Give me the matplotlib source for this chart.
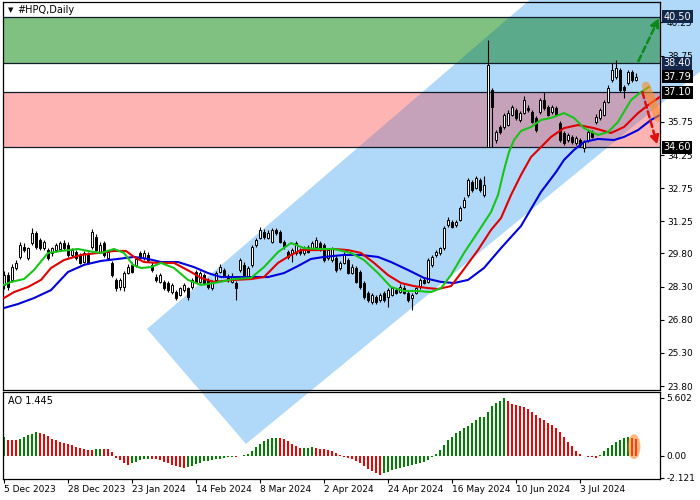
import numpy as np
import matplotlib.pyplot as plt
from matplotlib.patches import Polygon, Rectangle, Ellipse

plt.rcParams['font.family'] = 'DejaVu Sans'

# ---- daily candles (#HPQ), bar index 0 = 5 Dec 2023 ----
opens = [28.37, 28.82, 28.60, 29.14, 29.64, 30.09, 29.59, 30.27, 30.72, 30.41,
         30.04, 29.95, 29.82, 29.95, 30.00, 30.27, 30.18, 29.73, 29.86, 29.73,
         29.41, 29.73, 30.09, 30.54, 29.86, 30.27, 29.59, 29.37, 28.60, 28.28,
         28.28, 28.91, 29.28, 29.28, 29.82, 29.59, 29.73, 29.28, 28.73, 28.51,
         28.51, 28.46, 28.05, 28.05, 27.92, 28.14, 28.23, 28.28, 28.96, 28.51,
         28.82, 28.60, 28.23, 28.60, 28.96, 29.05, 28.78, 28.51, 28.46, 29.05,
         29.28, 28.73, 29.28, 30.18, 30.50, 30.77, 30.50, 30.32, 30.86, 30.77,
         30.32, 29.86, 29.82, 29.82, 29.95, 29.82, 30.09, 30.04, 30.09, 30.27,
         30.18, 29.59, 29.50, 29.59, 29.14, 29.37, 29.50, 28.91, 29.14, 28.96,
         28.46, 28.01, 27.60, 27.82, 27.69, 28.01, 27.82, 27.92, 28.14, 28.05,
         28.23, 28.01, 27.78, 28.01, 28.28, 28.60, 28.51, 29.28, 29.73, 29.82,
         30.04, 31.09, 31.22, 31.09, 31.31, 31.90, 32.44, 33.03, 32.76, 33.12,
         32.44, 34.61, 37.19, 34.93, 35.52, 35.52, 35.61, 36.06, 36.29, 35.84,
         36.15, 36.38, 36.20, 35.93, 36.20, 36.74, 36.42, 36.20, 36.38, 35.70,
         35.25, 34.93, 35.07, 34.80, 34.93, 34.57, 34.93, 35.29, 35.75, 35.93,
         36.06, 36.65, 37.65, 37.78, 38.10, 37.33, 37.51, 38.01, 37.65]
highs = [29.00, 28.95, 29.30, 29.50, 30.33, 30.25, 30.10, 30.95, 30.80, 30.50,
         30.40, 30.05, 30.10, 30.25, 30.35, 30.40, 30.30, 30.05, 29.95, 29.80,
         29.90, 29.85, 30.90, 30.70, 30.30, 30.35, 29.95, 29.45, 28.70, 28.70,
         29.00, 29.30, 29.40, 29.65, 29.90, 29.95, 29.85, 29.40, 28.85, 28.90,
         28.60, 28.55, 28.45, 28.15, 28.30, 28.45, 28.30, 28.70, 29.05, 29.00,
         28.90, 28.70, 28.60, 29.00, 29.30, 29.15, 28.85, 28.90, 28.55, 29.60,
         29.40, 29.25, 30.20, 30.50, 31.00, 30.90, 30.85, 30.95, 30.95, 30.85,
         30.40, 29.95, 30.05, 30.35, 30.05, 30.15, 30.20, 30.35, 30.55, 30.35,
         30.25, 30.05, 30.10, 29.70, 29.45, 29.85, 29.60, 29.30, 29.25, 29.05,
         28.55, 28.10, 28.00, 27.90, 28.00, 28.10, 28.25, 28.30, 28.25, 28.40,
         28.35, 28.10, 28.00, 28.30, 28.70, 28.70, 29.60, 29.75, 29.95, 30.10,
         31.05, 31.45, 31.30, 31.30, 31.95, 32.35, 33.20, 33.10, 33.30, 33.20,
         33.30, 39.46, 37.30, 35.40, 35.60, 36.15, 36.30, 36.50, 36.38, 36.25,
         36.90, 36.50, 36.30, 36.00, 36.85, 37.10, 36.50, 36.50, 36.45, 35.80,
         35.35, 35.25, 35.15, 35.10, 35.00, 34.95, 35.40, 35.38, 36.10, 36.38,
         36.75, 37.40, 38.42, 38.55, 38.20, 37.40, 38.10, 38.10, 37.95]
lows = [28.20, 28.15, 28.50, 29.05, 29.55, 29.85, 29.50, 30.20, 30.00, 29.95,
        29.95, 29.50, 29.70, 29.85, 29.90, 29.95, 29.65, 29.65, 29.50, 29.30,
        29.35, 29.30, 30.00, 29.90, 29.80, 29.65, 29.50, 28.75, 28.10, 28.15,
        28.10, 28.85, 28.90, 29.20, 29.50, 29.50, 29.40, 28.95, 28.50, 28.45,
        28.15, 28.05, 27.95, 27.70, 27.85, 28.05, 27.69, 28.20, 28.45, 28.45,
        28.40, 28.20, 28.15, 28.50, 28.90, 28.75, 28.50, 28.45, 27.69, 28.95,
        28.75, 28.65, 29.20, 30.10, 30.45, 30.45, 30.45, 30.25, 30.65, 30.25,
        30.00, 29.55, 29.40, 29.75, 29.75, 29.75, 29.80, 29.95, 30.00, 29.90,
        29.40, 29.50, 29.40, 28.95, 29.05, 29.30, 28.85, 28.85, 28.45, 28.20,
        27.75, 27.60, 27.50, 27.50, 27.60, 27.60, 27.37, 27.85, 27.95, 28.00,
        27.95, 27.60, 27.24, 27.95, 28.20, 28.40, 28.45, 29.20, 29.65, 29.75,
        29.95, 31.00, 30.95, 31.00, 31.25, 31.85, 32.35, 32.60, 32.70, 32.60,
        32.35, 34.61, 34.61, 34.80, 35.20, 35.45, 35.55, 36.00, 35.85, 35.75,
        36.10, 36.20, 35.70, 35.30, 36.10, 36.30, 36.00, 36.10, 36.00, 34.85,
        34.70, 34.85, 34.75, 34.70, 34.60, 34.39, 34.85, 35.00, 35.65, 35.85,
        36.00, 36.60, 37.55, 37.70, 37.10, 36.83, 37.40, 37.55, 37.60]
closes = [28.82, 28.28, 29.18, 29.37, 30.18, 29.95, 30.04, 30.72, 30.09, 30.04,
          30.32, 29.59, 30.04, 30.18, 30.27, 30.04, 29.73, 29.95, 29.59, 29.37,
          29.82, 29.37, 30.77, 29.95, 30.18, 29.73, 29.86, 28.82, 28.23, 28.60,
          28.91, 29.18, 28.96, 29.55, 29.59, 29.82, 29.50, 29.05, 28.60, 28.82,
          28.23, 28.14, 28.37, 27.78, 28.23, 28.37, 27.82, 28.60, 28.51, 28.91,
          28.46, 28.28, 28.51, 28.91, 29.18, 28.82, 28.60, 28.78, 28.23, 29.50,
          28.82, 29.14, 30.09, 30.41, 30.86, 30.54, 30.72, 30.86, 30.72, 30.32,
          30.09, 29.64, 29.95, 30.27, 29.82, 30.04, 29.86, 30.27, 30.41, 29.95,
          29.50, 29.95, 30.04, 29.05, 29.37, 29.73, 28.91, 29.18, 28.51, 28.28,
          27.82, 27.69, 27.92, 27.60, 27.92, 27.69, 28.14, 28.23, 28.01, 28.28,
          28.01, 27.69, 27.92, 28.23, 28.60, 28.46, 29.50, 29.64, 29.86, 30.04,
          30.95, 31.31, 31.00, 31.22, 31.85, 32.22, 33.12, 32.67, 33.21, 32.67,
          32.90, 38.33, 36.42, 35.29, 35.29, 36.06, 36.15, 36.42, 35.93, 36.15,
          36.74, 36.29, 35.75, 35.38, 36.74, 36.38, 36.06, 36.42, 36.06, 34.93,
          34.80, 35.16, 34.84, 35.02, 34.71, 34.84, 35.29, 35.07, 35.97, 36.29,
          36.65, 37.28, 38.10, 38.19, 37.19, 37.19, 38.01, 37.65, 37.79]

# ---- Alligator lines (bar index, price) ----
lips_x = [0, 1.75, 5, 7.5, 11, 14.25, 18.5, 21, 24.25, 27.5, 30, 32.25, 34.25, 36.75,
          39.25, 42.5, 46, 49.25, 52.5, 57.5, 61.75, 65, 68.5, 71.75, 75, 78.5, 82.5,
          86.75, 90, 93.5, 96.75, 100, 103.5, 106.75, 109.25, 111.75, 115, 118.5,
          121.75, 123.5, 125, 126.25, 127.5, 129.25, 131.75, 134.25, 136.75, 140,
          142.5, 145, 148.5, 151, 153.5, 156.75, 159.25, 161.25]
lips_y = [28.37, 28.51, 28.64, 29.05, 29.82, 29.91, 30.00, 29.91, 29.82, 30.00, 29.82,
          29.28, 29.14, 29.18, 29.37, 29.14, 28.60, 28.37, 28.46, 28.64, 28.69, 29.18,
          29.86, 30.27, 30.04, 30.00, 30.00, 29.82, 29.50, 28.91, 28.28, 28.10, 28.10,
          28.05, 28.23, 28.82, 29.82, 30.77, 31.67, 32.44, 33.57, 34.39, 34.93, 35.34,
          35.52, 35.84, 35.93, 36.15, 35.93, 35.47, 35.16, 35.29, 35.75, 36.74, 37.10,
          37.33]
teeth_x = [0, 2.5, 6, 9.25, 11.75, 15, 19.25, 23.5, 27.5, 30.5, 32.5, 35, 38.5, 42.5,
           46.75, 49.25, 52.5, 57.5, 61.75, 65, 68.5, 71.75, 74.25, 78.5, 82.5, 86,
           89.25, 92.5, 96, 99.25, 102.5, 106, 108.5, 111.75, 114.25, 118.5, 121.75,
           124.25, 126.75, 129.25, 131.75, 134.25, 136.75, 140, 143.5, 147.5, 151.75,
           155, 158.5, 161.75, 164]
teeth_y = [27.78, 28.05, 28.28, 28.60, 29.14, 29.50, 29.73, 29.82, 29.91, 29.91, 29.64,
           29.41, 29.37, 29.37, 28.96, 28.69, 28.51, 28.60, 28.64, 28.73, 29.37, 29.73,
           29.95, 29.95, 30.00, 29.95, 29.82, 29.37, 28.82, 28.46, 28.32, 28.23, 28.19,
           28.32, 28.91, 29.95, 30.86, 31.40, 32.44, 33.35, 34.16, 34.61, 35.07, 35.47,
           35.61, 35.47, 35.25, 35.52, 36.15, 36.61, 36.88]
jaw_x = [0, 3.5, 7.5, 11.75, 16, 20, 24.25, 28.5, 32.5, 36, 39.25, 43.5, 47.5, 51,
         54.25, 59.25, 66, 70, 73.5, 76.75, 80, 85, 89.25, 93.5, 96.75, 101, 105,
         109.25, 112.5, 116, 120, 124.25, 129.25, 134.25, 138, 140, 142.5, 145, 148.5,
         152.5, 155, 158.5, 161.75, 164]
jaw_y = [27.33, 27.51, 27.78, 28.14, 28.96, 29.28, 29.46, 29.55, 29.64, 29.55, 29.41,
         29.41, 29.18, 28.91, 28.73, 28.73, 28.73, 28.91, 29.23, 29.55, 29.64, 29.73,
         29.73, 29.64, 29.41, 29.05, 28.69, 28.51, 28.46, 28.60, 29.14, 30.04, 31.04,
         32.58, 33.48, 34.03, 34.48, 34.84, 34.98, 34.93, 35.07, 35.38, 35.84, 36.06]

# ---- Awesome Oscillator ----
ao = [1.80, 1.55, 1.53, 1.50, 1.65, 1.80, 2.00, 2.15, 2.29, 2.20,
      2.10, 1.90, 1.65, 1.50, 1.35, 1.25, 1.18, 1.05, 0.90, 0.78,
      0.68, 0.62, 0.60, 0.65, 0.70, 0.68, 0.66, 0.35, -0.20, -0.38,
      -0.63, -0.90, -0.70, -0.55, -0.38, -0.29, -0.25, -0.29, -0.32, -0.42,
      -0.55, -0.70, -0.84, -0.97, -1.10, -1.20, -1.10, -0.97, -0.77, -0.64,
      -0.52, -0.45, -0.39, -0.32, -0.26, -0.19, -0.13, -0.10, -0.11, -0.03,
      0.10, 0.19, 0.52, 0.90, 1.16, 1.40, 1.65, 1.75, 1.76, 1.74,
      1.60, 1.40, 1.20, 1.00, 0.80, 0.81, 0.82, 0.83, 0.80, 0.70,
      0.65, 0.58, 0.52, 0.26, 0.13, -0.06, -0.16, -0.32, -0.48, -0.70,
      -0.97, -1.22, -1.45, -1.60, -1.85, -1.67, -1.50, -1.40, -1.29, -1.20,
      -1.10, -0.97, -0.90, -0.80, -0.70, -0.58, -0.39, -0.13, 0.23, 0.58,
      1.06, 1.55, 1.87, 2.20, 2.45, 2.67, 2.90, 3.20, 3.48, 3.74,
      3.80, 4.28, 4.83, 5.09, 5.35, 5.602, 5.30, 5.00, 4.93, 4.86,
      4.77, 4.50, 4.25, 3.96, 3.70, 3.48, 3.22, 3.00, 2.67, 2.35,
      1.87, 1.38, 0.97, 0.48, 0.20, 0.03, -0.06, -0.13, -0.19, 0.10,
      0.48, 0.74, 1.06, 1.38, 1.55, 1.71, 1.80, 1.75, 1.65]

# levels of the drawn zones and price tags
target_zone = (38.40, 40.50)
stop_zone = (34.60, 37.10)
tags = [40.50, 38.40, 37.79, 37.10, 34.60]
tag_colors = ['#13284a', '#13284a', '#000000', '#000000', '#000000']
price_ticks = [40.25, 38.75, 35.75, 34.25, 32.75, 31.25, 29.80, 28.30, 26.80, 25.30, 23.80]
date_pos = [0, 16, 32, 48, 64, 80, 96, 112, 128, 144]
date_labels = ['5 Dec 2023', '28 Dec 2023', '23 Jan 2024', '14 Feb 2024', '8 Mar 2024',
               '2 Apr 2024', '24 Apr 2024', '16 May 2024', '10 Jun 2024', '3 Jul 2024']
# channel drawn on the chart (bar index, price)
channel = [(35.75, 26.38), (60.5, 21.18), (174.25, 38.06), (174.25, 47.94)]

n = len(closes)
idx = np.arange(n)
XMIN, XMAX = -0.25, 164.0

fig = plt.figure(figsize=(7, 5), dpi=100)
ax = fig.add_axes([3 / 700, 110 / 500, 657 / 700, 388 / 500])
ax2 = fig.add_axes([3 / 700, 21 / 500, 657 / 700, 87 / 500])
ax.set_facecolor('white')
ax2.set_facecolor('none')

# channel + zones
ax.add_patch(Polygon(channel, closed=True, fc='#b0d8f8', ec='none', zorder=0.5, clip_on=False))
for (lo, hi), col, mix in [(target_zone, '#80c080', '#5caa8c'), (stop_zone, '#ffb4b4', '#c6a2ba')]:
    band = Rectangle((XMIN, lo), XMAX - XMIN, hi - lo, fc=col, ec='none', zorder=1)
    ax.add_patch(band)
    over = Polygon(channel, closed=True, fc=mix, ec='none', zorder=1.1)
    ax.add_patch(over)
    over.set_clip_path(band)
    ax.hlines([lo, hi], XMIN, XMAX, colors='#101c2c', lw=0.9, zorder=1.2)

# candles
o = np.array(opens); c = np.array(closes)
ax.vlines(idx, lows, highs, colors='black', lw=0.8, zorder=2)
body_lo = np.minimum(o, c)
body_h = np.maximum(np.abs(c - o), 0.02)
ax.bar(idx, body_h, bottom=body_lo, width=0.55,
       color=np.where(c >= o, 'white', 'black'), edgecolor='black', lw=0.7, zorder=2.1)

# alligator
ax.plot(jaw_x, jaw_y, color='#0000dc', lw=1.5, zorder=3)
ax.plot(teeth_x, teeth_y, color='#e00000', lw=1.5, zorder=3.1)
ax.plot(lips_x, lips_y, color='#18c418', lw=1.5, zorder=3.2)

# forecast arrows and highlight
ax.plot([160.5, 163.6], [37.38, 35.95], color='#ff8a1c', lw=6, alpha=0.6,
        solid_capstyle='round', zorder=4)
ax.annotate('', xy=(163.75, 40.45), xytext=(158.6, 38.5),
            arrowprops=dict(arrowstyle='-|>,head_length=0.5,head_width=0.25', color='#0a8a1a',
                            lw=1.8, ls=(0, (2.5, 1.5)), shrinkA=0, shrinkB=0),
            annotation_clip=False, zorder=5)
ax.annotate('', xy=(163.3, 34.72), xytext=(159.6, 37.1),
            arrowprops=dict(arrowstyle='-|>,head_length=0.5,head_width=0.25', color='#e01010',
                            lw=1.8, ls=(0, (2.5, 1.5)), shrinkA=0, shrinkB=0),
            annotation_clip=False, zorder=5)

ax.set_xlim(XMIN, XMAX)
ax.set_ylim(23.619, 41.176)
ax.set_xticks([])
ax.yaxis.tick_right()
ax.set_yticks(price_ticks)
ax.set_yticklabels([f'{t:.2f}' for t in price_ticks])
ax.tick_params(axis='y', direction='out', length=3, width=0.8, labelsize=6.5, pad=2)
for s in ax.spines.values():
    s.set_linewidth(0.9)

for v, col in zip(tags, tag_colors):
    ax.annotate(f'{v:.2f}', xy=(1, v), xycoords=('axes fraction', 'data'), xytext=(2.5, 0),
                textcoords='offset points', ha='left', va='center', fontsize=7, color='white',
                bbox=dict(boxstyle='square,pad=0.15', fc=col, ec='none'),
                annotation_clip=False, zorder=6)

# AO pane
ao_arr = np.array(ao)
rising = np.r_[True, ao_arr[1:] > ao_arr[:-1]]
ax2.bar(idx, ao_arr, width=0.72, color=np.where(rising, '#008000', '#f00000'), zorder=2)
ax2.add_patch(Ellipse((157.5, 0.9), 3.2, 2.4, fc='#ff7a1a', ec='none', alpha=0.55, zorder=3))
ax2.set_xlim(XMIN, XMAX)
ax2.set_ylim(-2.222, 6.18)
ax2.yaxis.tick_right()
ax2.set_yticks([5.602, 0.0, -2.121])
ax2.set_yticklabels(['5.602', '0.00', '-2.121'])
ax2.set_xticks(date_pos)
ax2.set_xticklabels(date_labels, ha='left')
ax2.tick_params(axis='both', direction='out', length=3, width=0.8, labelsize=6.5, pad=1.5)
for s in ax2.spines.values():
    s.set_linewidth(0.9)

fig.text(8 / 700, 1 - 10 / 500, '\u25bc', fontsize=5, va='center', ha='left')
fig.text(17 / 700, 1 - 10 / 500, '#HPQ,Daily', fontsize=7, va='center', ha='left')
fig.text(8 / 700, 1 - 401 / 500, 'AO 1.445', fontsize=7, va='center', ha='left')

fig.savefig('out.png', dpi=100)
